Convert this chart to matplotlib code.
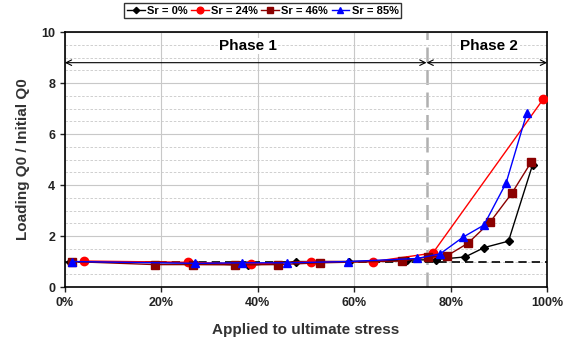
import numpy as np
import matplotlib.pyplot as plt
from matplotlib.ticker import MultipleLocator, PercentFormatter

plt.rcParams['font.family'] = ['Liberation Sans', 'DejaVu Sans']
plt.rcParams['font.weight'] = 'bold'

# stress ratio (%) and loading ratio for each saturation level
x_sr0 = [1, 26, 38, 48, 59, 71, 77, 83, 87, 92, 97]
y_sr0 = [1.0, 0.95, 0.85, 1.0, 1.0, 1.05, 1.08, 1.18, 1.55, 1.8, 4.8]

x_sr24 = [4, 25.5, 38.5, 51, 64, 76.3, 99.2]
y_sr24 = [1.02, 0.97, 0.9, 1.0, 1.0, 1.33, 7.37]

x_sr46 = [1.4, 18.7, 26.6, 35.3, 44.2, 53, 70, 75.3, 79.2, 83.6, 88.2, 92.7, 96.7]
y_sr46 = [1.0, 0.88, 0.88, 0.87, 0.88, 0.95, 1.02, 1.18, 1.22, 1.72, 2.55, 3.68, 4.9]

x_sr85 = [1.4, 27, 36.7, 46, 58.7, 73, 77.8, 82.6, 86.9, 91.5, 95.8]
y_sr85 = [1.0, 0.93, 0.95, 0.95, 1.0, 1.12, 1.3, 1.96, 2.43, 4.08, 6.82]

labels = ['Sr = 0%', 'Sr = 24%', 'Sr = 46%', 'Sr = 85%']

fig = plt.figure(figsize=(5.64, 3.45), dpi=100)
ax = fig.add_axes([0.115, 0.168, 0.855, 0.739])

ax.axhline(1.0, color='black', ls=(0, (5, 3)), lw=1.2, zorder=2)
ax.axvline(75, color='#b0b0b0', ls=(0, (6, 3)), lw=1.8, zorder=1)

ax.plot(x_sr0, y_sr0, color='black', marker='D', ms=4, lw=1, label=labels[0], zorder=3)
ax.plot(x_sr24, y_sr24, color='red', marker='o', ms=6, lw=1, label=labels[1], zorder=3)
ax.plot(x_sr46, y_sr46, color='#8b0000', marker='s', ms=6, lw=1, label=labels[2], zorder=3)
ax.plot(x_sr85, y_sr85, color='blue', marker='^', ms=6, lw=1, label=labels[3], zorder=3)

# phase arrows
ax.annotate('', xy=(0, 8.8), xytext=(75, 8.8),
            arrowprops=dict(arrowstyle='<->', color='black', lw=0.8, shrinkA=0, shrinkB=0))
ax.annotate('', xy=(75, 8.8), xytext=(100, 8.8),
            arrowprops=dict(arrowstyle='<->', color='black', lw=0.8, shrinkA=0, shrinkB=0))
ax.text(38, 9.45, 'Phase 1', ha='center', va='center', fontsize=11, fontweight='bold',
        bbox=dict(fc='white', ec='none', pad=1))
ax.text(88, 9.45, 'Phase 2', ha='center', va='center', fontsize=11, fontweight='bold',
        bbox=dict(fc='white', ec='none', pad=1))

ax.set_xlim(0, 100)
ax.set_ylim(0, 10)
ax.xaxis.set_major_locator(MultipleLocator(20))
ax.xaxis.set_major_formatter(PercentFormatter(decimals=0))
ax.yaxis.set_major_locator(MultipleLocator(2))
ax.grid(True, which='major', color='#c8c8c8', lw=0.8, zorder=0)
ax.yaxis.set_minor_locator(MultipleLocator(0.5))
ax.grid(True, which='minor', axis='y', color='#c8c8c8', lw=0.6, ls=(0, (3, 2)), zorder=0)
ax.tick_params(which='both', direction='out', labelsize=9, width=1, colors='#222222')
ax.tick_params(which='minor', length=0)
for s in ax.spines.values():
    s.set_linewidth(1.2)

ax.set_xlabel('Applied to ultimate stress', fontsize=11, fontweight='bold', labelpad=10,
              color='#333333')
ax.set_ylabel('Loading Q0 / Initial Q0', fontsize=11, fontweight='bold', labelpad=8,
              color='#333333')

fig.legend(loc='upper center', bbox_to_anchor=(0.466, 0.995), ncol=4, fontsize=8,
           frameon=True, fancybox=False, edgecolor='black', handlelength=1.6,
           handletextpad=0.2, columnspacing=0.3, borderpad=0.25, markerscale=0.8,
           borderaxespad=0.1)

fig.savefig('out.png', dpi=100)
